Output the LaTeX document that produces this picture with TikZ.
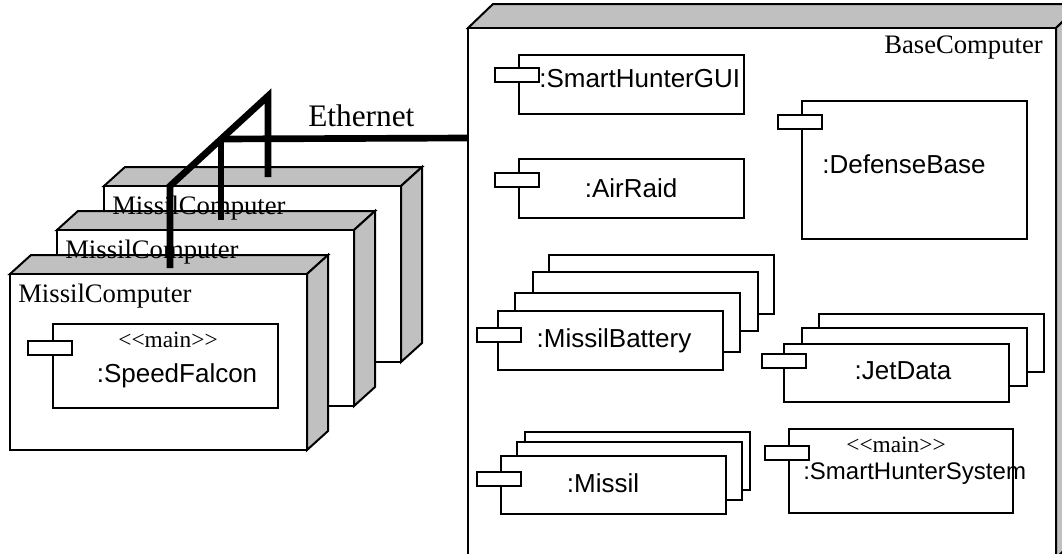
\documentclass[tikz,border=0pt]{standalone}
\usepackage{fontspec}
\setmainfont{Liberation Serif}
\newfontfamily\arialfont{Liberation Sans}
\usepackage{tikz}
\definecolor{sidegray}{RGB}{192,192,192}

\tikzset{
  face/.style={draw=black,line width=1.5pt,fill=white},
  sideface/.style={draw=black,line width=1.5pt,fill=sidegray},
  compbox/.style={draw=black,line width=1.5pt,fill=white},
  comptab/.style={draw=black,line width=1.5pt,fill=white},
  ethernet/.style={line width=5pt},
  nodelabel/.style={font=\fontsize{20}{24}\selectfont,inner sep=0pt},
  complabel/.style={font=\arialfont\fontsize{19.5}{23}\selectfont,inner sep=0pt},
  stereo/.style={font=\fontsize{17.5}{21}\selectfont,inner sep=0pt}
}

% 3d deployment node: x, y, width, height, depth x, depth y
\newcommand{\udnode}[6]{%
  \draw[sideface] (#1,#2) -- ++(#5,-#6) -- ++(#3,0) -- ++(-#5,#6) -- cycle;
  \draw[sideface] ({#1+#3},#2) -- ++(#5,-#6) -- ++(0,#4) -- ++(-#5,#6) -- cycle;
  \draw[face] (#1,#2) rectangle ++(#3,#4);
}
\newcommand{\ctab}[2]{\draw[comptab] (#1,#2) rectangle ++(44,14);}
\newcommand{\mainst}{<\kern0pt<main>\kern0pt>}

\begin{document}
\begin{tikzpicture}[x=0.75pt,y=-0.75pt]
\useasboundingbox (0,0) rectangle (1062,553);
\clip (0,0) rectangle (1062,553);

% base computer
\udnode{468}{28}{588}{530}{25}{24}
\node[nodelabel,anchor=base east] (basename) at (1043,53) {BaseComputer};
\coordinate (basePort) at (468,138);

\draw[compbox] (519,55) rectangle (744,114);
\ctab{495}{68}
\node[complabel,anchor=base west] (gui) at (539,87) {:SmartHunterGUI};

\draw[compbox] (519,159) rectangle (744,218);
\ctab{495}{173}
\node[complabel,anchor=base] (airraid) at (631,197) {:AirRaid};

\draw[compbox] (802,101) rectangle (1027,239);
\ctab{778}{115}
\node[complabel,anchor=base] (defense) at (904,173) {:DefenseBase};

\foreach \x/\y in {549/255,533/272,515/293,498/311}
  \draw[compbox] (\x,\y) rectangle ++(225,59);
\ctab{477}{328}
\node[complabel,anchor=base] (battery) at (614,347) {:MissilBattery};

\foreach \x/\y in {819/314,802/328,784/344}
  \draw[compbox] (\x,\y) rectangle ++(225,58);
\ctab{762}{354}
\node[complabel,anchor=base] (jetdata) at (903,379) {:JetData};

\foreach \x/\y in {525/432,517/442,501/456}
  \draw[compbox] (\x,\y) rectangle ++(225,58);
\ctab{477}{472}
\node[complabel,anchor=base] (missil) at (603,492) {:Missil};

\draw[compbox] (789,429) rectangle (1013,513);
\ctab{765}{446}
\node[stereo,anchor=base] (shsmain) at (896,452) {\mainst};
\node[complabel,font=\arialfont\fontsize{18}{22}\selectfont,anchor=base west] (shs) at (803,479) {:SmartHunterSystem};

% missil computers
\udnode{104}{186}{297}{176}{21}{19}
\udnode{57}{230}{297}{176}{21}{19}
\udnode{10}{274}{297}{176}{21}{19}

\draw[compbox] (53,324) rectangle (278,408);
\ctab{28}{341}
\node[stereo,anchor=base] (sfmain) at (168,347) {\mainst};
\node[complabel,anchor=base] (falcon) at (177,382) {:SpeedFalcon};

\node[nodelabel,anchor=base west] (mcC) at (112,214) {MissilComputer};
\node[nodelabel,anchor=base west] (mcB) at (65,258) {MissilComputer};
\node[nodelabel,anchor=base west] (mcA) at (18,302) {MissilComputer};

% ethernet
\coordinate (portA) at (170,268);
\coordinate (portB) at (221,220);
\coordinate (portC) at (268,177);
\coordinate (hubA) at (170,186);
\coordinate (hubB) at (221,139);
\coordinate (hubC) at (268,96);
\draw[ethernet] (portA) -- (hubA) -- (hubC) -- (portC);
\draw[ethernet] (portB) -- (hubB);
\draw[ethernet] (hubB) -- (basePort);
\node[font=\fontsize{23.5}{28}\selectfont,inner sep=0pt,anchor=base west] (eth) at (308,126) {Ethernet};
\end{tikzpicture}
\end{document}
